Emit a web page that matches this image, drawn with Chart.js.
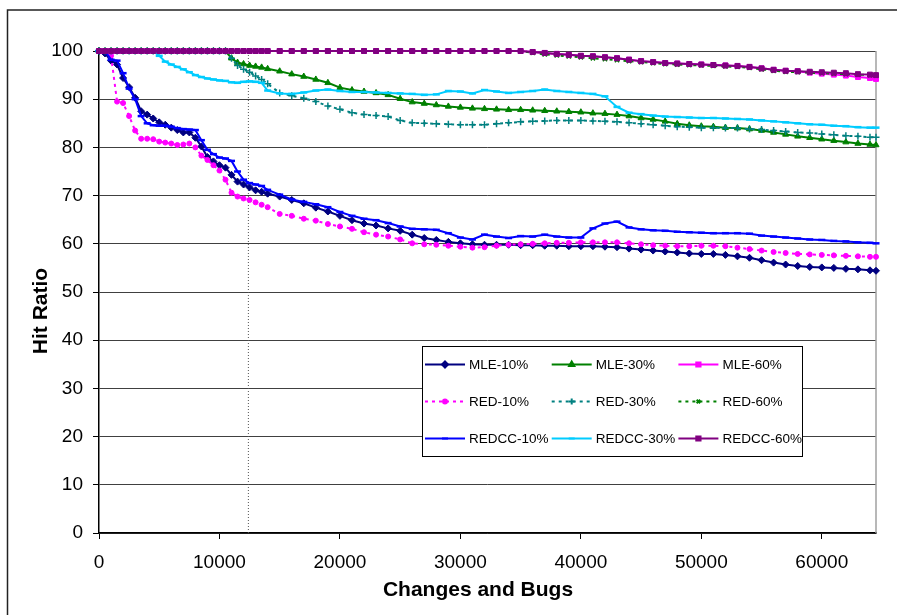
<!DOCTYPE html>
<html>
<head>
<meta charset="utf-8">
<title>Hit Ratio</title>
<script src="https://cdn.jsdelivr.net/npm/chart.js@4.4.1/dist/chart.umd.min.js"></script>
<style>
  html, body { margin: 0; padding: 0; background: #fff; }
  #wrap { width: 897px; height: 615px; }
</style>
</head>
<body>
<div id="wrap"><canvas id="hit-chart" width="897" height="615"></canvas></div>
<script>
// number of changes and bugs seen so far
const steps = [
  0, 500, 1000, 1500, 2000, 2500, 3000, 3500, 4000, 4500,
  5000, 5500, 6000, 6500, 7000, 7500, 8000, 8500, 9000, 9500,
  10000, 10500, 11000, 11500, 12000, 12500, 13000, 13500, 14000,
  15000, 16000, 17000, 18000, 19000, 20000, 21000, 22000, 23000, 24000,
  25000, 26000, 27000, 28000, 29000, 30000, 31000, 32000, 33000, 34000,
  35000, 36000, 37000, 38000, 39000, 40000, 41000, 42000, 43000, 44000,
  45000, 46000, 47000, 48000, 49000, 50000, 51000, 52000, 53000, 54000,
  55000, 56000, 57000, 58000, 59000, 60000, 61000, 62000, 63000, 64000,
  64500
];

const labels = ["MLE-10%", "MLE-30%", "MLE-60%", "RED-10%", "RED-30%", "RED-60%", "REDCC-10%", "REDCC-30%", "REDCC-60%"];

const mle10 = [
  100, 99.5, 98, 97.2, 94.4, 92.5, 90.3, 87.5, 86.8, 86,
  85.2, 84.7, 84.1, 83.6, 83.1, 83.1, 82, 80.2, 78, 77.1,
  76.3, 75.8, 74.3, 72.9, 72.3, 71.7, 71.1, 70.8, 70.4,
  69.8, 69.1, 68.4, 67.5, 66.7, 65.8, 64.9, 64.2, 63.8, 63.2,
  62.7, 61.9, 61.2, 60.8, 60.4, 60.1, 59.9, 59.8, 59.8, 59.8,
  59.7, 59.7, 59.6, 59.6, 59.5, 59.5, 59.5, 59.4, 59.3, 59.0,
  58.8, 58.6, 58.4, 58.2, 58.0, 57.9, 57.9, 57.7, 57.4, 57.1,
  56.6, 56.1, 55.7, 55.4, 55.2, 55.1, 55.0, 54.8, 54.7, 54.5,
  54.4
];
const mle30 = [
  100, 100, 100, 100, 100, 100, 100, 100, 100, 100,
  100, 100, 100, 100, 100, 100, 100, 100, 100, 100,
  100, 100, 98.5, 97.6, 97.3, 97.0, 96.8, 96.6, 96.3,
  95.8, 95.2, 94.7, 94.1, 93.4, 92.4, 91.9, 91.6, 91.3, 90.9,
  90.1, 89.4, 89.1, 88.8, 88.5, 88.3, 88.1, 88.0, 87.9, 87.8,
  87.8, 87.7, 87.6, 87.5, 87.4, 87.3, 87.1, 87.0, 86.8, 86.5,
  86.1, 85.8, 85.4, 84.9, 84.6, 84.4, 84.3, 84.1, 84.0, 83.8,
  83.5, 83.1, 82.7, 82.3, 82.0, 81.7, 81.4, 81.1, 80.8, 80.6,
  80.5
];
const mle60 = [
  100, 100, 100, 100, 100, 100, 100, 100, 100, 100,
  100, 100, 100, 100, 100, 100, 100, 100, 100, 100,
  100, 100, 100, 100, 100, 100, 100, 100, 100,
  100, 100, 100, 100, 100, 100, 100, 100, 100, 100,
  100, 100, 100, 100, 100, 100, 100, 100, 100, 100,
  100, 99.8, 99.6, 99.4, 99.2, 99.0, 98.9, 98.7, 98.5, 98.2,
  97.9, 97.7, 97.5, 97.4, 97.3, 97.2, 97.1, 97.0, 96.9, 96.7,
  96.4, 96.1, 95.9, 95.8, 95.5, 95.3, 95.1, 94.9, 94.6, 94.4,
  94.2
];
const red10 = [
  100, 100, 99, 89.5, 89.2, 86.5, 83.5, 81.8, 81.8, 81.7,
  81.2, 81.0, 80.8, 80.5, 80.6, 80.8, 80.0, 78.3, 77.4, 76.3,
  75.2, 73.3, 70.6, 69.8, 69.4, 69.1, 68.6, 68.1, 67.6,
  66.2, 65.8, 65.2, 64.8, 64.1, 63.6, 63.1, 62.4, 61.9, 61.5,
  60.9, 60.1, 59.9, 59.8, 59.6, 59.4, 59.2, 59.3, 59.6, 59.8,
  59.9, 60.0, 60.1, 60.2, 60.2, 60.3, 60.3, 60.3, 60.3, 60.1,
  59.9, 59.7, 59.6, 59.5, 59.5, 59.6, 59.6, 59.5, 59.2, 58.9,
  58.6, 58.3, 58.1, 57.9, 57.8, 57.7, 57.6, 57.5, 57.4, 57.3,
  57.3
];
const red30 = [
  100, 100, 100, 100, 100, 100, 100, 100, 100, 100,
  100, 100, 100, 100, 100, 100, 100, 100, 100, 100,
  100, 100, 98.5, 97.0, 96.2, 95.6, 94.8, 94.1, 93.2,
  91.3, 90.7, 90.2, 89.5, 88.6, 87.9, 87.2, 86.8, 86.6, 86.4,
  85.6, 85.1, 85.0, 84.9, 84.8, 84.7, 84.7, 84.7, 84.9, 85.1,
  85.3, 85.4, 85.5, 85.6, 85.6, 85.6, 85.5, 85.4, 85.3, 85.1,
  84.9, 84.7, 84.5, 84.3, 84.2, 84.1, 84.1, 84.0, 84.0, 83.8,
  83.7, 83.5, 83.3, 83.1, 83.0, 82.8, 82.6, 82.4, 82.3, 82.1,
  82.1
];
const red60 = [
  100, 100, 100, 100, 100, 100, 100, 100, 100, 100,
  100, 100, 100, 100, 100, 100, 100, 100, 100, 100,
  100, 100, 100, 100, 100, 100, 100, 100, 100,
  100, 100, 100, 100, 100, 100, 100, 100, 100, 100,
  100, 100, 100, 100, 100, 100, 100, 100, 100, 100,
  100, 99.6, 99.3, 99.1, 98.9, 98.7, 98.5, 98.3, 98.1, 97.9,
  97.7, 97.5, 97.3, 97.2, 97.1, 97.0, 96.9, 96.8, 96.7, 96.5,
  96.2, 95.9, 95.7, 95.6, 95.5, 95.4, 95.3, 95.2, 95.1, 95.0,
  94.9
];
const redcc10 = [
  100, 100, 98.2, 98, 95.4, 92.2, 90, 86.5, 85, 84.6,
  84.5, 84.5, 84.3, 84.0, 83.8, 83.7, 83.6, 81.5, 79.5, 78.6,
  77.9, 77.7, 77.2, 75.0, 73.3, 72.6, 72.3, 72.0, 71.2,
  70.2, 69.2, 68.7, 68.2, 67.6, 66.6, 65.8, 65.2, 64.9, 64.3,
  63.6, 63.1, 63.0, 62.9, 62.2, 61.3, 60.9, 61.9, 61.5, 61.2,
  61.6, 61.5, 61.9, 61.5, 61.3, 61.3, 63.2, 64.2, 64.6, 63.4,
  63.0, 62.8, 62.7, 62.5, 62.4, 62.3, 62.2, 62.2, 62.2, 62.1,
  61.7, 61.5, 61.3, 61.1, 60.9, 60.8, 60.6, 60.5, 60.3, 60.2,
  60.1
];
const redcc30 = [
  100, 100, 100, 100, 100, 100, 100, 100, 100, 100,
  99.0, 97.8, 97.2, 96.7, 96.2, 95.6, 95.0, 94.6, 94.3, 94.1,
  93.9, 93.8, 93.5, 93.4, 93.6, 93.7, 93.6, 93.4, 91.8,
  91.2, 91.1, 91.4, 91.8, 92.0, 91.7, 91.5, 91.5, 91.4, 91.3,
  91.2, 91.1, 90.9, 91.0, 91.7, 91.6, 91.2, 91.9, 91.6, 91.3,
  91.5, 91.7, 92.0, 91.7, 91.5, 91.3, 91.1, 90.6, 88.4, 87.2,
  86.9, 86.6, 86.4, 86.3, 86.2, 86.1, 86.1, 86.0, 85.9, 85.8,
  85.6, 85.4, 85.2, 85.0, 84.8, 84.7, 84.5, 84.4, 84.2, 84.1,
  84.1
];
const redcc60 = [
  100, 100, 100, 100, 100, 100, 100, 100, 100, 100,
  100, 100, 100, 100, 100, 100, 100, 100, 100, 100,
  100, 100, 100, 100, 100, 100, 100, 100, 100,
  100, 100, 100, 100, 100, 100, 100, 100, 100, 100,
  100, 100, 100, 100, 100, 100, 100, 100, 100, 100,
  100, 99.8, 99.6, 99.4, 99.2, 99.0, 98.9, 98.7, 98.5, 98.2,
  97.9, 97.7, 97.5, 97.4, 97.3, 97.2, 97.1, 97.0, 96.9, 96.7,
  96.4, 96.1, 95.9, 95.8, 95.7, 95.6, 95.5, 95.4, 95.2, 95.1,
  95.0
];

// vertical marker where the training period ends
const cutoffX = 12400;

const xTicks = [0, 10000, 20000, 30000, 40000, 50000, 60000];

const FONT = '"Liberation Sans", Arial, Helvetica, sans-serif';
Chart.defaults.font.family = FONT;
Chart.defaults.color = "#000";

const series = [mle10, mle30, mle60, red10, red30, red60, redcc10, redcc30, redcc60];

const looks = [
  { color: "#000080", dash: [], style: "rectRot", r: 3.5, bw: 1 },
  { color: "#008000", dash: [], style: "triangle", r: 3.5, bw: 1 },
  { color: "#FF00FF", dash: [], style: "rect", r: 3.5, bw: 1 },
  { color: "#FF00FF", dash: [3, 4], style: "circle", r: 2.5, bw: 1 },
  { color: "#008080", dash: [3, 4], style: "cross", r: 3.5, bw: 1.5 },
  { color: "#008000", dash: [3, 4], style: "crossRot", r: 3, bw: 1.5 },
  { color: "#0000FF", dash: [], style: "line", r: 3.5, bw: 2.5 },
  { color: "#00CCFF", dash: [], style: "line", r: 3.5, bw: 2.5 },
  { color: "#800080", dash: [], style: "rect", r: 3.5, bw: 1 },
];

const datasets = series.map((vals, i) => ({
  label: labels[i],
  data: steps.map((x, j) => ({ x: x, y: vals[j] })),
  borderColor: looks[i].color,
  backgroundColor: looks[i].color,
  borderWidth: 2,
  borderDash: looks[i].dash,
  pointStyle: looks[i].style,
  pointRadius: looks[i].r,
  pointBorderWidth: looks[i].bw,
  pointBackgroundColor: looks[i].color,
  pointBorderColor: looks[i].color,
  tension: 0,
  clip: false,
  order: 9 - i,
}));

datasets.push({
  label: "",
  data: [{ x: cutoffX, y: 0 }, { x: cutoffX, y: 100 }],
  borderColor: "#555",
  borderWidth: 1,
  borderDash: [1, 2],
  pointRadius: 0,
  order: 20,
});

// white chart frame drawn around everything
const frame = {
  id: "frame",
  beforeDraw(chart) {
    const ctx = chart.ctx;
    ctx.save();
    ctx.fillStyle = "#fff";
    ctx.fillRect(0, 0, chart.width, chart.height);
    ctx.strokeStyle = "#222";
    ctx.lineWidth = 1.5;
    ctx.strokeRect(7.5, 10, chart.width + 20, chart.height + 20);
    ctx.restore();
  },
  beforeDatasetsDraw(chart) {
    const a = chart.chartArea;
    const ctx = chart.ctx;
    ctx.save();
    ctx.strokeStyle = "#a0a0a0";
    ctx.lineWidth = 1.5;
    ctx.beginPath();
    ctx.moveTo(a.right, a.top);
    ctx.lineTo(a.right, a.bottom);
    ctx.stroke();
    ctx.restore();
  },
};

// axis titles
const titles = {
  id: "titles",
  afterDraw(chart) {
    const ctx = chart.ctx;
    ctx.save();
    ctx.fillStyle = "#000";
    ctx.font = "bold 21px " + FONT;
    ctx.textAlign = "center";
    ctx.textBaseline = "alphabetic";
    ctx.fillText("Changes and Bugs", 478, 596);
    ctx.translate(47, 311);
    ctx.rotate(-Math.PI / 2);
    ctx.fillText("Hit Ratio", 0, 0);
    ctx.restore();
  },
};

// boxed 3x3 legend inside the plot
const legendBox = {
  id: "legendBox",
  afterDatasetsDraw(chart) {
    const ctx = chart.ctx;
    const left = 422, top = 346, w = 380, h = 110;
    ctx.save();
    ctx.fillStyle = "#fff";
    ctx.fillRect(left, top, w, h);
    ctx.strokeStyle = "#000";
    ctx.lineWidth = 1;
    ctx.strokeRect(left + 0.5, top + 0.5, w, h);
    ctx.font = "13.5px " + FONT;
    ctx.textBaseline = "middle";
    chart.data.datasets.forEach((ds, i) => {
      if (!ds.label) return;
      const col = i % 3, row = Math.floor(i / 3);
      const x = left + 3 + col * 126.7;
      const y = 364.5 + row * 37;
      ctx.strokeStyle = ds.borderColor;
      ctx.lineWidth = 2;
      ctx.setLineDash(ds.borderDash || []);
      ctx.beginPath();
      ctx.moveTo(x, y);
      ctx.lineTo(x + 40, y);
      ctx.stroke();
      ctx.setLineDash([]);
      ctx.fillStyle = ds.borderColor;
      Chart.helpers.drawPoint(ctx, {
        pointStyle: ds.pointStyle,
        radius: ds.pointRadius - 0.5,
        rotation: 0,
        borderWidth: ds.pointBorderWidth,
      }, x + 20, y);
      ctx.fillStyle = "#000";
      ctx.fillText(ds.label, x + 44, y + 1);
    });
    ctx.restore();
  },
};

new Chart(document.getElementById("hit-chart"), {
  type: "line",
  data: { datasets: datasets },
  plugins: [frame, legendBox, titles],
  options: {
    responsive: false,
    animation: false,
    layout: { padding: { left: 0, top: 51, right: 21, bottom: 0 } },
    scales: {
      x: {
        type: "linear",
        min: 0,
        max: 64500,
        afterBuildTicks(scale) {
          scale.ticks = xTicks.map((v) => ({ value: v }));
        },
        ticks: {
          autoSkip: false,
          maxRotation: 0,
          padding: 12,
          font: { size: 19 },
          color: "#000",
          callback: (v) => String(v),
        },
        grid: { drawOnChartArea: false, drawTicks: true, tickLength: 6, tickColor: "#000" },
        border: { color: "#000", width: 1.5 },
        afterFit(scale) { scale.height = 82; },
      },
      y: {
        min: 0,
        max: 100,
        ticks: { stepSize: 10, padding: 10, font: { size: 19 }, color: "#000" },
        grid: { color: "#404040", lineWidth: 1, tickLength: 6, tickColor: "#000" },
        border: { color: "#000", width: 1.5 },
        afterFit(scale) { scale.width = 99; },
      },
    },
    plugins: {
      legend: { display: false },
      tooltip: { enabled: false },
    },
  },
});
</script>
</body>
</html>
